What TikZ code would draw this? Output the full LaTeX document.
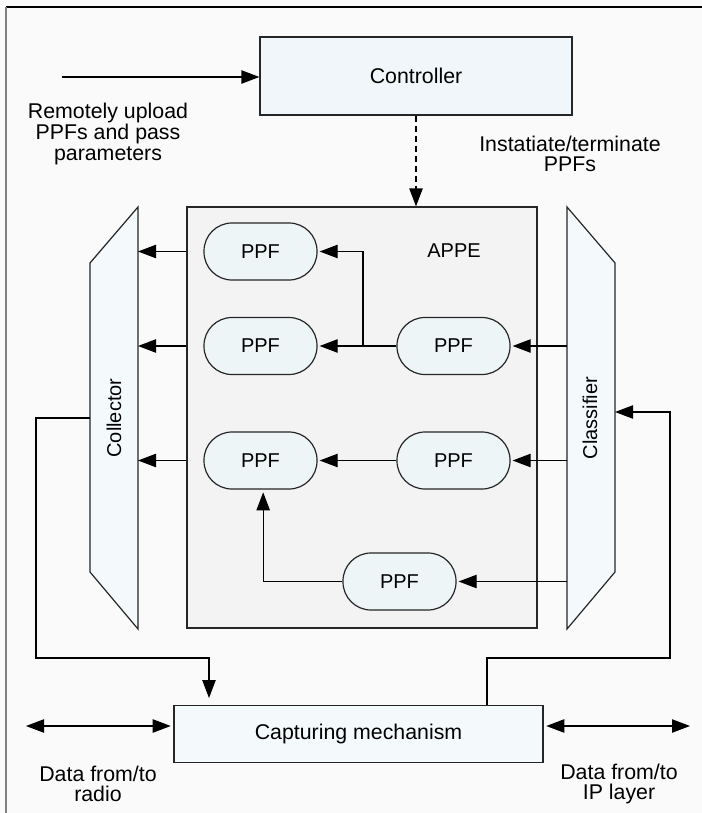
\documentclass[tikz,border=0pt]{standalone}
\usepackage{fontspec}
\setmainfont{Liberation Sans}
\usetikzlibrary{arrows.meta,calc}
\definecolor{bg}{HTML}{FAFAFA}
\definecolor{ctrlfill}{HTML}{F0F6F9}
\definecolor{capfill}{HTML}{F4F9FB}
\definecolor{ppffill}{HTML}{EEF5F7}
\definecolor{appefill}{HTML}{F3F3F3}
\definecolor{trapfill}{HTML}{F4F9FB}
\definecolor{edge}{HTML}{262626}
\begin{document}
\begin{tikzpicture}[x=0.75pt,y=-0.75pt,
  conn/.style={draw=black, line width=0.9pt},
  arr/.style={conn, -{Triangle[length=13.5pt,width=10pt]}},
  darr/.style={conn, {Triangle[length=13.5pt,width=10pt]}-{Triangle[length=13.5pt,width=10pt]}},
  box/.style={draw=edge, line width=0.9pt, inner sep=0pt, font=\fontsize{16}{16}\selectfont},
  ppf/.style={draw=edge, line width=0.9pt, fill=ppffill, rounded corners=21pt, minimum width=84.75pt, minimum height=42.75pt, inner sep=0pt, font=\fontsize{15}{15}\selectfont},
  trap/.style={draw=edge, line width=0.9pt, fill=trapfill},
  lbl/.style={align=center, inner sep=0pt, font=\fontsize{16}{15.5}\selectfont},
  vlbl/.style={rotate=90, inner sep=0pt, font=\fontsize{15}{15}\selectfont}
]
\fill[bg] (0,0) rectangle (702,813);
\useasboundingbox (0,0) rectangle (702,813);
\draw[black, line width=1.5pt] (6,7) -- (702,7);
\draw[gray, line width=1.6pt] (6,7) -- (6,813);

% Controller
\node[box, fill=ctrlfill, minimum width=234pt, minimum height=58.5pt] (ctrl) at (416,76) {Controller};
\coordinate (inp) at (62,77);
\draw[arr] (inp) -- (inp -| ctrl.west);
\node[lbl] (upl) at (108,134) {Remotely upload\\PPFs and pass\\parameters};
\node[lbl] (inst) at (570,154) {Instatiate/terminate\\PPFs};

% APPE
\node[draw=edge, line width=0.9pt, fill=appefill, minimum width=262.5pt, minimum height=315.75pt, inner sep=0pt] (appe) at (362,417.5) {};
\node[inner sep=0pt, font=\fontsize{15}{15}\selectfont] (appelbl) at (454,251) {APPE};
\draw[arr, dash pattern=on 4.5pt off 3pt] (ctrl.south) -- (ctrl.south |- appe.north);

% PPFs
\node[ppf] (p1) at (260.5,251.5) {PPF};
\node[ppf] (p2) at (260.5,346) {PPF};
\node[ppf] (p3) at (453.5,346) {PPF};
\node[ppf] (p4) at (260.5,460.5) {PPF};
\node[ppf] (p5) at (453.5,460.5) {PPF};
\node[ppf] (p6) at (399.5,581.5) {PPF};

\draw[arr, shorten >=1.5pt] (p3.west) -- (p2.east);
\coordinate (br) at (363,346);
\draw[arr, shorten >=1.5pt] (br) |- (p1.east);
\draw[arr, shorten >=1.5pt] (p5.west) -- (p4.east);
\draw[arr, shorten >=2pt] (p6.west) -| ([xshift=2pt]p4.south);

% Collector
\draw[trap] (138,207) coordinate (colTR) -- (138,629) -- (90,572) -- (90,263) -- cycle;
\node[vlbl] (coll) at (114,418) {Collector};
\coordinate (collL) at (90,418);
\draw[arr] (appe.west |- p1.east) -- (colTR |- p1.east);
\draw[arr] (appe.west |- p2.east) -- (colTR |- p2.east);
\draw[arr] (appe.west |- p4.east) -- (colTR |- p4.east);

% Classifier
\draw[trap] (567,207) coordinate (clsTL) -- (567,629) -- (615,572) -- (615,263) -- cycle;
\node[vlbl] (cls) at (590,418) {Classifier};
\coordinate (clsR) at (615,412);
\draw[arr, shorten >=1.5pt] (clsTL |- p3.east) -- (p3.east);
\draw[arr, shorten >=1.5pt] (clsTL |- p5.east) -- (p5.east);
\draw[arr, shorten >=1.5pt] (clsTL |- p6.east) -- (p6.east);

% Capturing mechanism
\node[box, fill=capfill, minimum width=276.75pt, minimum height=43pt] (cap) at (358.5,734) {Capturing mechanism};
\coordinate (fl1) at (36,658);
\coordinate (fx) at (209,658);
\draw[arr, shorten >=5pt] (collL) -| (fl1) -- (fx) -- (fx |- cap.north);
\coordinate (fb1) at (487,658);
\coordinate (fb2) at (670,412);
\draw[arr] (fb1 |- cap.north) -- (fb1) -| (fb2) -- (clsR);

\coordinate (dl) at (26,726);
\coordinate (dr) at (690,726);
\draw[darr, shorten >=2pt] (dl) -- (dl -| cap.west);
\draw[darr, shorten <=2pt] (dr -| cap.east) -- (dr);
\node[lbl] (rad) at (98,784) {Data from/to\\radio};
\node[lbl] (ipl) at (619,784) {Data from/to\\IP layer};
\end{tikzpicture}
\end{document}
